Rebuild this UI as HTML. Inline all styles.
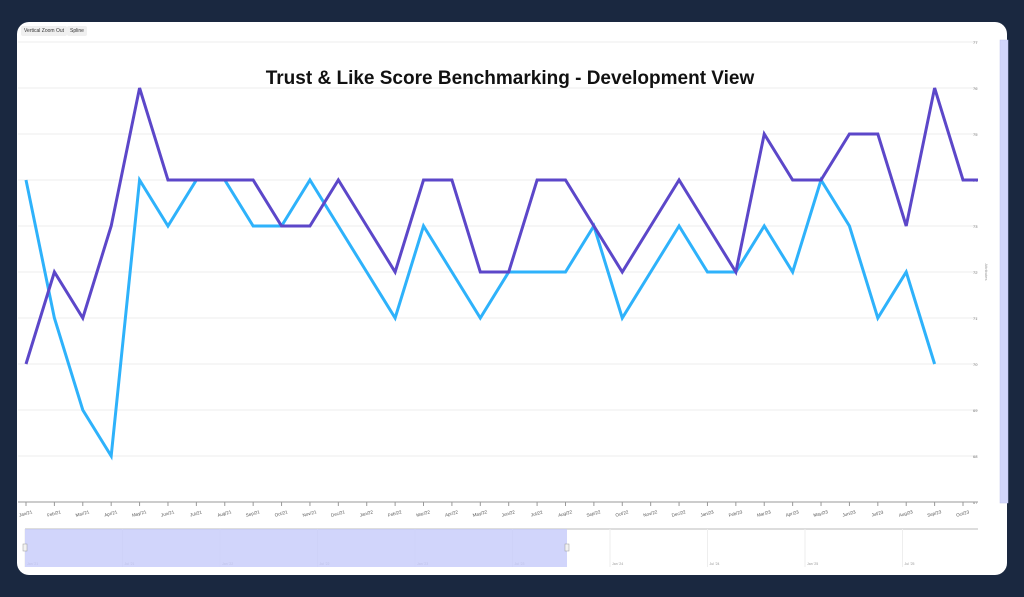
<!DOCTYPE html>
<html><head><meta charset="utf-8"><style>
body{margin:0;width:1024px;height:597px;background:#1a2840;overflow:hidden;font-family:"Liberation Sans",sans-serif}
#card{position:absolute;left:17px;top:22px;width:990px;height:553px;background:#fff;border-radius:12px}
.btn{position:absolute;top:4px;font-size:5px;background:#f0f0f0;border-radius:2px;padding:2px 3px;color:#333;white-space:nowrap}
svg{position:absolute;left:0;top:0}
</style></head><body>
<div id="card">
<div class="btn" style="left:4px">Vertical Zoom Out</div>
<div class="btn" style="left:50px">Spline</div>
</div>
<svg id="chart" width="1024" height="597"></svg>
<script>
const months=["Jan/21","Feb/21","Mar/21","Apr/21","May/21","Jun/21","Jul/21","Aug/21","Sep/21","Oct/21","Nov/21","Dec/21","Jan/22","Feb/22","Mar/22","Apr/22","May/22","Jun/22","Jul/22","Aug/22","Sep/22","Oct/22","Nov/22","Dec/22","Jan/23","Feb/23","Mar/23","Apr/23","May/23","Jun/23","Jul/23","Aug/23","Sep/23","Oct/23"];
const trustScores=[70,72,71,73,76,74,74,74,74,73,73,74,73,72,74,74,72,72,74,74,73,72,73,74,73,72,75,74,74,75,75,73,76,74];
const likeScores=[74,71,69,68,74,73,74,74,73,73,74,73,72,71,73,72,71,72,72,72,73,71,72,73,72,72,73,72,74,73,71,72,70];
const yTicks=[67,68,69,70,71,72,73,74,75,76,77];
const navLabels=["Jan '21","Jul '21","Jan '22","Jul '22","Jan '23","Jul '23","Jan '24","Jul '24","Jan '25","Jul '25"];
const NS="http://www.w3.org/2000/svg",svg=document.getElementById('chart');
const x0=26,x1=963,y0=502;
const xs=i=>x0+i*(x1-x0)/(months.length-1);
const ys=v=>y0-(v-67)*(y0-88)/9;
function mk(t,a,p){const e=document.createElementNS(NS,t);for(const k in a)e.setAttribute(k,a[k]);(p||svg).appendChild(e);return e;}
yTicks.forEach(v=>{
 const g=mk('line',{x1:18,x2:978,y1:ys(v),y2:ys(v),stroke:'#ececec','stroke-width':1});
 
 
 const t=mk('text',{x:973,y:ys(v)+2,'font-size':4,fill:'#777'});t.textContent=v;
 
 
});
mk('line',{x1:18,x2:978,y1:y0,y2:y0,stroke:'#999','stroke-width':1});
months.forEach((m,i)=>{
 mk('line',{x1:xs(i),x2:xs(i),y1:y0,y2:y0+4,stroke:'#999'});
 const t=mk('text',{x:xs(i),y:y0+13,'font-size':4.5,fill:'#555','text-anchor':'middle',transform:`rotate(-15 ${xs(i)} ${y0+13})`});t.textContent=m;
 
 
});
const yl=mk('text',{x:985,y:272,'font-size':4,fill:'#999',transform:'rotate(90 985 272)','text-anchor':'middle'});yl.textContent='Attributes';


const title=mk('text',{x:510,y:84,'font-size':19,'font-weight':'bold',fill:'#111','text-anchor':'middle'});title.textContent='Trust & Like Score Benchmarking - Development View';


function line(arr,c,name,ext){let pts=arr.map((v,i)=>xs(i)+','+ys(v));if(ext)pts.push('978,'+ys(arr[arr.length-1]));
 const p=mk('polyline',{points:pts.join(' '),fill:'none',stroke:c,'stroke-width':3,'stroke-linejoin':'miter'});
 
 }
line(likeScores,'#2eb2fb','like-score-line',false);
line(trustScores,'#5c47c9','trust-score-line',true);
const vs=mk('rect',{x:1000,y:40,width:8,height:463,fill:'#d2d6fb',stroke:'#c0c4ee','stroke-width':.5});


mk('line',{x1:25,x2:978,y1:529,y2:529,stroke:'#bbb'});
navLabels.forEach((l,i)=>{const x=25+i*97.5;
 mk('line',{x1:x,x2:x,y1:529,y2:567,stroke:'#eee'});
 const t=mk('text',{x:x+2,y:565,'font-size':3.5,fill:'#999'});t.textContent=l;
 
 });
const sel=mk('rect',{x:25,y:529,width:542,height:38,fill:'#c5cafa','fill-opacity':.8});


[25,567].forEach(x=>{const h=mk('rect',{x:x-2,y:544,width:4,height:7,fill:'#f2f2f2',stroke:'#999','stroke-width':.5});
 
 });
</script>
</body></html>
